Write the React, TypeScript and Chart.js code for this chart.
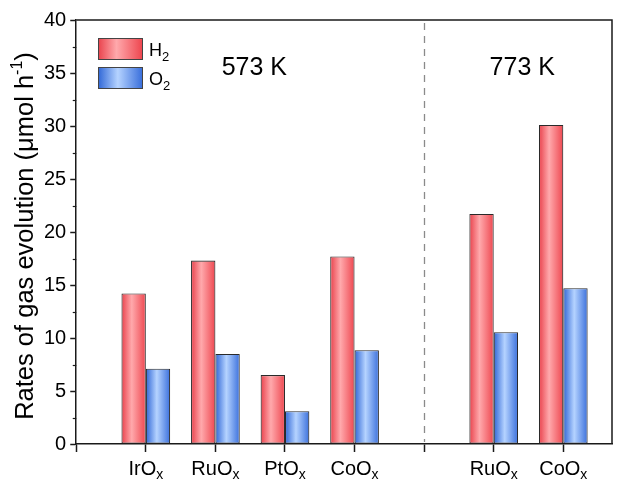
import React, { useEffect, useRef } from 'react';
import { Chart, registerables } from 'chart.js';

Chart.register(...registerables);

// ---- data ----
const categories = ['IrO', 'RuO', 'PtO', 'CoO', '', 'RuO', 'CoO'];
const categorySubs = ['x', 'x', 'x', 'x', '', 'x', 'x'];
const h2Rates: (number | null)[] = [14.2, 17.3, 6.5, 17.7, null, 21.7, 30.1];
const o2Rates: (number | null)[] = [7.1, 8.5, 3.1, 8.85, null, 10.55, 14.7];
const yTickValues = [0, 5, 10, 15, 20, 25, 30, 35, 40];
const yMinorTickValues = [2.5, 7.5, 12.5, 17.5, 22.5, 27.5, 32.5, 37.5];
const groupLabels = ['573 K', '773 K'];
const groupLabelAt = [2.56, 6.41];
const dividerAt = 5;
const seriesNames = ['H', 'O'];
const seriesSubs = ['2', '2'];

const FONT = 'Liberation Sans, Arial, Helvetica, sans-serif';

const RED_STOPS: [number, string][] = [
  [0, '#e9414b'],
  [0.42, '#ffa9ac'],
  [1, '#ee4750'],
];
const BLUE_STOPS: [number, string][] = [
  [0, '#2f66d6'],
  [0.45, '#b5d3ff'],
  [1, '#3b70dc'],
];

function grad(ctx: CanvasRenderingContext2D, x0: number, x1: number, stops: [number, string][]) {
  const g = ctx.createLinearGradient(x0, 0, x1, 0);
  stops.forEach(([o, c]) => g.addColorStop(o, c));
  return g;
}

function toPoints(vals: (number | null)[]) {
  return vals
    .map((v, i) => ({ x: i + 1, y: v }))
    .filter((p) => p.y !== null) as { x: number; y: number }[];
}

function drawSubText(
  ctx: CanvasRenderingContext2D,
  main: string,
  sub: string,
  x: number,
  baseline: number,
  mainSize: number,
  subSize: number,
  subDrop: number,
  align: 'left' | 'center'
) {
  ctx.font = `${mainSize}px ${FONT}`;
  const wm = ctx.measureText(main).width;
  ctx.font = `${subSize}px ${FONT}`;
  const ws = ctx.measureText(sub).width;
  const total = wm + ws;
  const start = align === 'center' ? x - total / 2 : x;
  ctx.textAlign = 'left';
  ctx.textBaseline = 'alphabetic';
  ctx.font = `${mainSize}px ${FONT}`;
  ctx.fillText(main, start, baseline);
  ctx.font = `${subSize}px ${FONT}`;
  ctx.fillText(sub, start + wm, baseline + subDrop);
}

const decorPlugin = {
  id: 'decor',
  beforeDatasetsDraw(chart: any) {
    const ctx = chart.ctx as CanvasRenderingContext2D;
    chart.data.datasets.forEach((ds: any, di: number) => {
      const meta = chart.getDatasetMeta(di);
      const stops = di === 0 ? RED_STOPS : BLUE_STOPS;
      meta.data.forEach((el: any) => {
        const x0 = el.x - el.width / 2;
        const x1 = el.x + el.width / 2;
        el.options.backgroundColor = grad(ctx, x0, x1, stops);
      });
    });
  },
  afterDraw(chart: any) {
    const ctx = chart.ctx as CanvasRenderingContext2D;
    const { left, right, top, bottom } = chart.chartArea;
    const xs = chart.scales.x;
    const ys = chart.scales.y;
    ctx.save();

    // dashed divider
    ctx.strokeStyle = '#8a8a8a';
    ctx.lineWidth = 1.3;
    ctx.setLineDash([7, 6]);
    const dx = Math.round(xs.getPixelForValue(dividerAt)) + 0.5;
    ctx.beginPath();
    ctx.moveTo(dx, top + 3);
    ctx.lineTo(dx, bottom - 2);
    ctx.stroke();
    ctx.setLineDash([]);

    // frame top & right
    ctx.strokeStyle = '#1a1a1a';
    ctx.lineWidth = 1.5;
    ctx.beginPath();
    ctx.moveTo(left, top);
    ctx.lineTo(right, top);
    ctx.lineTo(right, bottom);
    ctx.stroke();

    // minor y ticks
    ctx.lineWidth = 1.2;
    yMinorTickValues.forEach((v) => {
      const y = Math.round(ys.getPixelForValue(v)) + 0.5;
      ctx.beginPath();
      ctx.moveTo(left, y);
      ctx.lineTo(left - 3.5, y);
      ctx.stroke();
    });

    ctx.fillStyle = '#000';
    // x tick labels with subscripts
    categories.forEach((c, i) => {
      if (!c) return;
      const px = xs.getPixelForValue(i + 1);
      drawSubText(ctx, c, categorySubs[i], px, bottom + 31, 20, 14, 4, 'center');
    });

    // group labels
    ctx.font = `25px ${FONT}`;
    ctx.textAlign = 'center';
    ctx.textBaseline = 'alphabetic';
    groupLabels.forEach((g, i) => {
      ctx.fillText(g, xs.getPixelForValue(groupLabelAt[i]), 75);
    });

    // legend
    const boxes = [
      { y: 38, stops: RED_STOPS },
      { y: 67, stops: BLUE_STOPS },
    ];
    boxes.forEach((b, i) => {
      const bx = 98;
      const bw = 44;
      const bh = 21;
      ctx.fillStyle = grad(ctx, bx, bx + bw, b.stops);
      ctx.fillRect(bx, b.y, bw, bh);
      ctx.strokeStyle = '#444';
      ctx.lineWidth = 1;
      ctx.strokeRect(bx + 0.5, b.y + 0.5, bw, bh);
      ctx.fillStyle = '#000';
      drawSubText(ctx, seriesNames[i], seriesSubs[i], 149, b.y + 17.5, 18, 13, 5, 'left');
    });

    // y axis title
    const cy = 236;
    ctx.translate(26, cy);
    ctx.rotate(-Math.PI / 2);
    const part1 = 'Rates of gas evolution (\u03BCmol h';
    const sup = '-1';
    const part3 = ')';
    const ms = 25.5;
    const ss = 16;
    ctx.font = `${ms}px ${FONT}`;
    const w1 = ctx.measureText(part1).width;
    const w3 = ctx.measureText(part3).width;
    ctx.font = `${ss}px ${FONT}`;
    const w2 = ctx.measureText(sup).width;
    const total = w1 + w2 + w3;
    let sx = -total / 2;
    ctx.textAlign = 'left';
    ctx.textBaseline = 'alphabetic';
    ctx.fillStyle = '#000';
    ctx.font = `${ms}px ${FONT}`;
    ctx.fillText(part1, sx, 7);
    sx += w1;
    ctx.font = `${ss}px ${FONT}`;
    ctx.fillText(sup, sx, -4);
    sx += w2;
    ctx.font = `${ms}px ${FONT}`;
    ctx.fillText(part3, sx, 7);

    ctx.restore();
  },
};

export default function App() {
  const ref = useRef<HTMLCanvasElement | null>(null);

  useEffect(() => {
    if (!ref.current) return;
    Chart.defaults.font.family = FONT;
    const chart = new Chart(ref.current, {
      type: 'bar',
      data: {
        datasets: [
          {
            label: 'H2',
            data: toPoints(h2Rates) as any,
            backgroundColor: () => '#ee4750',
            borderColor: '#2a2a2a',
            borderWidth: 1.1,
            borderSkipped: false,
            categoryPercentage: 0.7,
            barPercentage: 1.0,
          },
          {
            label: 'O2',
            data: toPoints(o2Rates) as any,
            backgroundColor: () => '#3b70dc',
            borderColor: '#2a2a2a',
            borderWidth: 1.1,
            borderSkipped: false,
            categoryPercentage: 0.7,
            barPercentage: 1.0,
          },
        ],
      },
      options: {
        responsive: false,
        animation: false,
        layout: { padding: { left: 40, right: 12, top: 20, bottom: 30 } },
        plugins: {
          legend: { display: false },
          tooltip: { enabled: false },
        },
        scales: {
          x: {
            type: 'linear',
            min: 0,
            max: 7.7,
            offset: false,
            afterBuildTicks: (scale: any) => {
              scale.ticks = scale.ticks.filter((t: any) => Number.isInteger(t.value));
            },
            ticks: { display: false, stepSize: 1 },
            grid: {
              offset: false,
              drawOnChartArea: false,
              drawTicks: true,
              tickLength: 8,
              tickColor: '#1a1a1a',
              tickWidth: 1.5,
            },
            border: { display: true, color: '#1a1a1a', width: 1.5 },
          },
          y: {
            min: 0,
            max: 40,
            afterBuildTicks: (scale: any) => {
              scale.ticks = yTickValues.map((v) => ({ value: v }));
            },
            ticks: {
              color: '#000',
              font: { size: 20, family: FONT },
              padding: 4,
            },
            grid: {
              drawOnChartArea: false,
              drawTicks: true,
              tickLength: 6,
              tickColor: '#1a1a1a',
              tickWidth: 1.5,
            },
            border: { display: true, color: '#1a1a1a', width: 1.5 },
          },
        },
      },
      plugins: [decorPlugin],
    });
    return () => chart.destroy();
  }, []);

  return (
    <div style={{ position: 'fixed', left: 0, top: 0, width: 624, height: 482, background: '#fff' }}>
      <canvas ref={ref} width={624} height={482} style={{ width: 624, height: 482 }} />
    </div>
  );
}
